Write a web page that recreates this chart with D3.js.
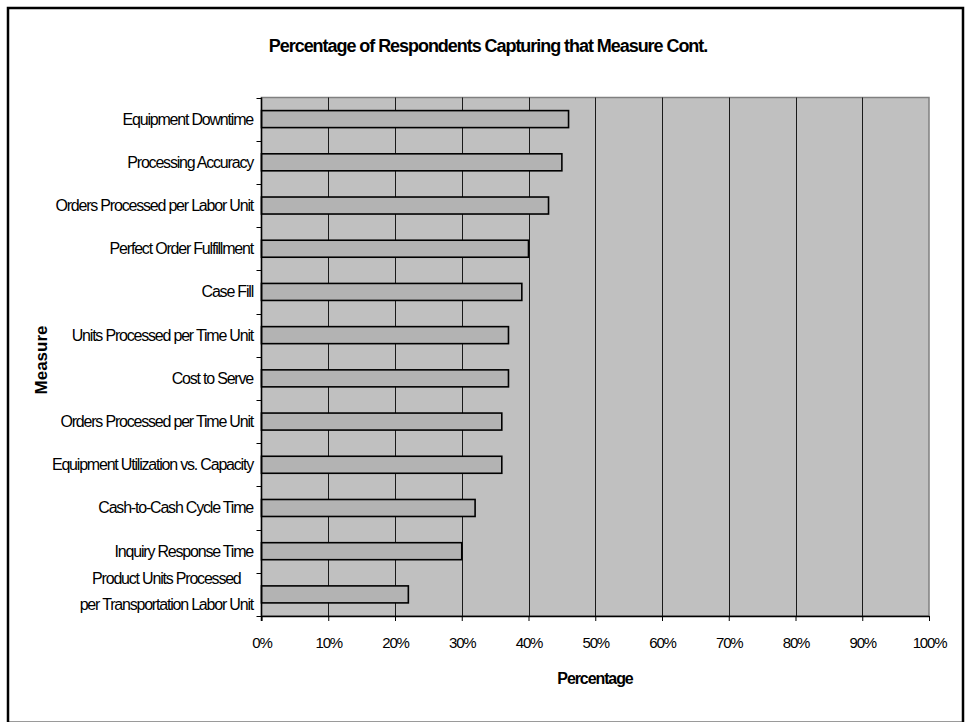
<!DOCTYPE html>
<html>
<head>
<meta charset="utf-8">
<script src="https://cdn.jsdelivr.net/npm/d3@7"></script>
<style>
  html, body { margin: 0; padding: 0; background: #fff; }
  svg { display: block; font-family: "Liberation Sans", Arial, sans-serif; }
</style>
</head>
<body>
<svg id="chart" width="969" height="723"></svg>
<script>
// Measures, top to bottom
const categories = [
  "Equipment Downtime",
  "Processing Accuracy",
  "Orders Processed per Labor Unit",
  "Perfect Order Fulfillment",
  "Case Fill",
  "Units Processed per Time Unit",
  "Cost to Serve",
  "Orders Processed per Time Unit",
  "Equipment Utilization vs. Capacity",
  "Cash-to-Cash Cycle Time",
  "Inquiry Response Time",
  "Product Units Processed\nper Transportation Labor Unit"
];
// Percentage of respondents capturing each measure
const values = [46, 45, 43, 40, 39, 37, 37, 36, 36, 32, 30, 22];
const xTicks = [0, 10, 20, 30, 40, 50, 60, 70, 80, 90, 100];

const svg = d3.select("#chart");

// frame
svg.append("line").attr("x1", 8).attr("x2", 963).attr("y1", 721.5).attr("y2", 721.5)
  .attr("stroke", "#9a9a9a").attr("stroke-width", 1);
svg.append("path").attr("d", "M8,722 V8 H963 V722")
  .attr("fill", "none").attr("stroke", "#000").attr("stroke-width", 2.5);

const plot = { left: 261.5, right: 929, top: 97.5, bottom: 616 };

const x = d3.scaleLinear().domain([0, 100]).range([plot.left, plot.right]);
const yBand = d3.scaleBand().domain(categories).range([plot.top, plot.bottom]);

// plot background
svg.append("rect")
  .attr("x", plot.left).attr("y", plot.top)
  .attr("width", plot.right - plot.left).attr("height", plot.bottom - plot.top)
  .attr("fill", "#c0c0c0").attr("stroke", "#808080").attr("stroke-width", 1.5);

// vertical gridlines
svg.append("g").selectAll("line")
  .data(xTicks.filter(d => d > 0 && d < 100))
  .join("line")
  .attr("x1", d => Math.round(x(d)) + 0.5).attr("x2", d => Math.round(x(d)) + 0.5)
  .attr("y1", plot.top).attr("y2", plot.bottom)
  .attr("stroke", "#1a1a1a").attr("stroke-width", 1);

// bars
svg.append("g").selectAll("rect")
  .data(values)
  .join("rect")
  .attr("x", plot.left)
  .attr("y", (d, i) => yBand(categories[i]) + yBand.bandwidth() / 2 - 8.5)
  .attr("width", d => x(d) - plot.left)
  .attr("height", 17)
  .attr("fill", "#b3b3b3")
  .attr("stroke", "#000").attr("stroke-width", 1.6);

// x axis
const xAxis = d3.axisBottom(x).tickValues(xTicks).tickFormat(d => d + "%")
  .tickSizeInner(5).tickSizeOuter(0).tickPadding(16);
const gx = svg.append("g").attr("transform", `translate(0,${plot.bottom})`).call(xAxis);
gx.select(".domain").attr("stroke", "#000").attr("stroke-width", 1.5);
gx.selectAll(".tick line").attr("stroke", "#000");
gx.selectAll(".tick text")
  .attr("font-size", 15).attr("letter-spacing", "-1.2px")
  .attr("font-family", "Liberation Sans, Arial, sans-serif").attr("fill", "#000");

// y axis: ticks sit on band boundaries
const boundaries = d3.range(categories.length + 1).map(i => plot.top + i * yBand.step());
svg.append("line").attr("x1", plot.left).attr("x2", plot.left)
  .attr("y1", plot.top).attr("y2", plot.bottom + 5)
  .attr("stroke", "#000").attr("stroke-width", 1.5);
svg.append("g").selectAll("line").data(boundaries).join("line")
  .attr("x1", plot.left - 5).attr("x2", plot.left)
  .attr("y1", d => Math.round(d) + 0.5).attr("y2", d => Math.round(d) + 0.5)
  .attr("stroke", "#000").attr("stroke-width", 1);

// category labels
const labels = svg.append("g")
  .attr("font-size", 16).attr("letter-spacing", "-1.2px").attr("fill", "#000");
categories.forEach((c, i) => {
  const lines = c.split("\n");
  const cy = yBand(c) + yBand.bandwidth() / 2;
  const lineH = 26;
  const shift = lines.length > 1 ? -2.5 : 0;
  const t = labels.append("text").attr("text-anchor", "middle");
  lines.forEach((ln, k) => {
    t.append("tspan").attr("x", 0)
      .attr("y", cy + (k - (lines.length - 1) / 2) * lineH + 5.5 + shift)
      .text(ln);
  });
  const w = d3.max(t.selectAll("tspan").nodes(), n => n.getComputedTextLength());
  t.selectAll("tspan").attr("x", 253 - w / 2);
});

// title and axis titles
svg.append("text").attr("x", 488).attr("y", 52).attr("text-anchor", "middle")
  .attr("font-size", 18).attr("font-weight", "bold").attr("letter-spacing", "-1.05px")
  .text("Percentage of Respondents Capturing that Measure Cont.");
svg.append("text").attr("x", 595).attr("y", 684).attr("text-anchor", "middle")
  .attr("font-size", 16).attr("font-weight", "bold").attr("letter-spacing", "-1.1px")
  .text("Percentage");
svg.append("text").attr("transform", "translate(47,360) rotate(-90)")
  .attr("text-anchor", "middle")
  .attr("font-size", 17).attr("font-weight", "bold")
  .text("Measure");
</script>
</body>
</html>
